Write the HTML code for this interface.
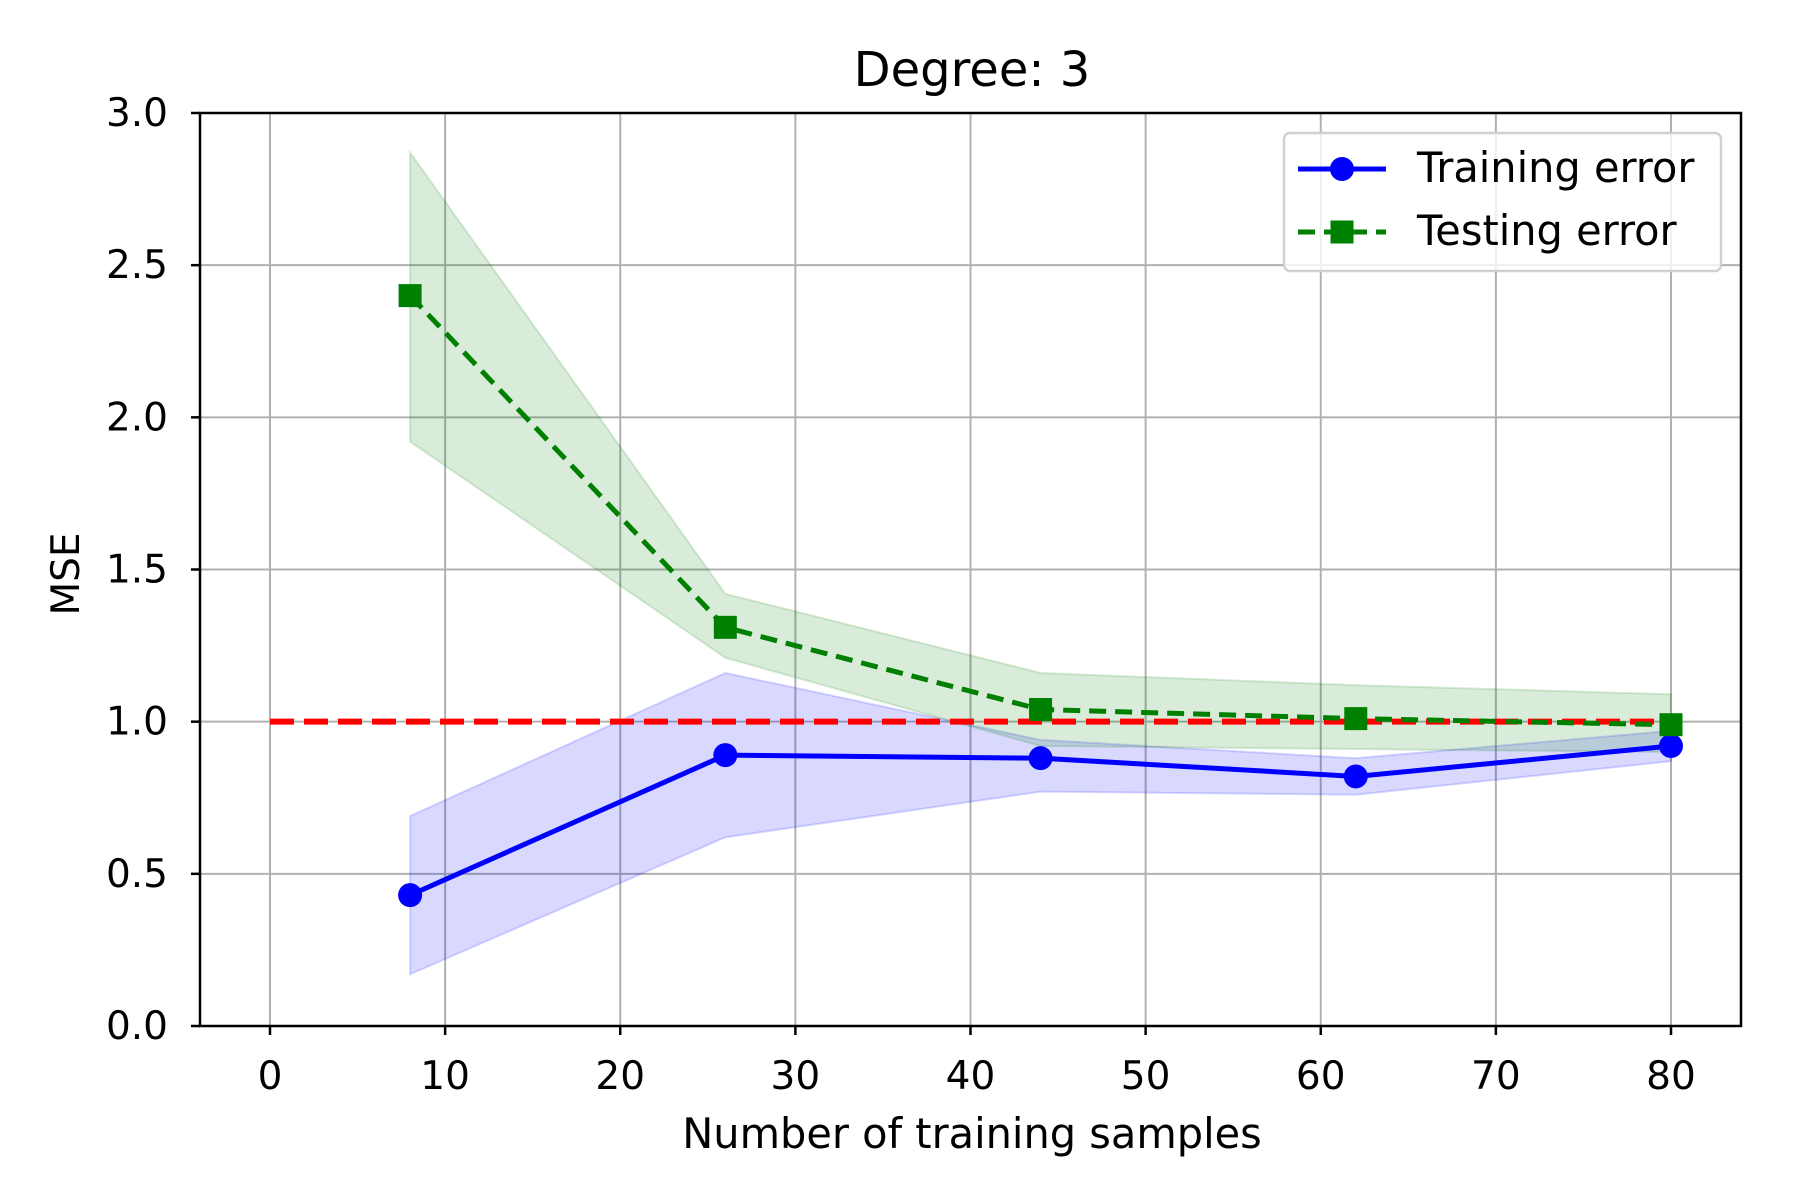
<!DOCTYPE html>
<html><head><meta charset="utf-8"><style>body{margin:0;background:#fff}svg text{font-family:"DejaVu Sans","Liberation Sans",sans-serif;fill:#000}</style></head>
<body>
<svg id="chart" width="1800" height="1200" viewBox="0 0 1800 1200" xmlns="http://www.w3.org/2000/svg" style="position:absolute;left:0;top:0"></svg>
<script>
const xs = [8, 26, 44, 62, 80];
const trainMean = [0.43, 0.89, 0.88, 0.82, 0.92];
const trainUpper = [0.69, 1.16, 0.94, 0.88, 0.97];
const trainLower = [0.17, 0.62, 0.77, 0.76, 0.87];
const testMean = [2.40, 1.31, 1.04, 1.01, 0.99];
const testUpper = [2.87, 1.42, 1.16, 1.12, 1.09];
const testLower = [1.92, 1.21, 0.92, 0.91, 0.90];
const baseline = 1.0;
const xTicks = [0,10,20,30,40,50,60,70,80];
const yTicks = [0.0,0.5,1.0,1.5,2.0,2.5,3.0];

const L=200,R=1741,T=113,B=1026;
const X=v=>270+(v-0)*(1671-270)/80;
const Y=v=>B-(v/3)*(B-T);
const svg=document.getElementById('chart');
const NS='http://www.w3.org/2000/svg';
function mk(tag,attrs,parent){const e=document.createElementNS(NS,tag);for(const k in attrs)e.setAttribute(k,attrs[k]);(parent||svg).appendChild(e);return e;}

xTicks.forEach(t=>{const g=mk('line',{x1:X(t),x2:X(t),y1:T,y2:B,stroke:'#b0b0b0','stroke-width':2});

});
yTicks.forEach(t=>{const g=mk('line',{x1:L,x2:R,y1:Y(t),y2:Y(t),stroke:'#b0b0b0','stroke-width':2});

});

function band(up,lo,fill,name){
  let pts=xs.map((x,i)=>X(x)+','+Y(up[i]));
  pts=pts.concat(xs.map((x,i)=>X(x)+','+Y(lo[i])).reverse());
  const p=mk('polygon',{points:pts.join(' '),fill:fill,'fill-opacity':0.15,stroke:fill,'stroke-opacity':0.15,'stroke-width':2});
  
  
}
band(trainUpper,trainLower,'#0000ff','training-error-band');
band(testUpper,testLower,'#008000','testing-error-band');

const rl=mk('line',{x1:X(0),x2:X(80),y1:Y(baseline),y2:Y(baseline),stroke:'#ff0000','stroke-width':6,'stroke-dasharray':'24,10'});



const tl=mk('polyline',{points:xs.map((x,i)=>X(x)+','+Y(trainMean[i])).join(' '),fill:'none',stroke:'#0000ff','stroke-width':5});


xs.forEach((x,i)=>{const c=mk('circle',{cx:X(x),cy:Y(trainMean[i]),r:12,fill:'#0000ff'});

});

const sl=mk('polyline',{points:xs.map((x,i)=>X(x)+','+Y(testMean[i])).join(' '),fill:'none',stroke:'#008000','stroke-width':5,'stroke-dasharray':'17,9'});


xs.forEach((x,i)=>{const s=mk('rect',{x:X(x)-11.5,y:Y(testMean[i])-11.5,width:23,height:23,fill:'#008000'});

});

const fr=mk('rect',{x:L,y:T,width:R-L,height:B-T,fill:'none',stroke:'#000','stroke-width':2.5});



xTicks.forEach(t=>{const k=mk('line',{x1:X(t),x2:X(t),y1:B,y2:B+9,stroke:'#000','stroke-width':2.5});


const tx=mk('text',{x:X(t),y:1089,'font-size':39,'text-anchor':'middle'});tx.textContent=t;

});
yTicks.forEach(t=>{const k=mk('line',{x1:L-9,x2:L,y1:Y(t),y2:Y(t),stroke:'#000','stroke-width':2.5});


const tx=mk('text',{x:L-32,y:Y(t)+13,'font-size':39,'text-anchor':'end'});tx.textContent=t.toFixed(1);

});
</script>
<svg style="position:absolute;left:0;top:0" width="1800" height="1200">
<text x="972" y="86" font-size="48" text-anchor="middle">Degree: 3</text>
<text x="972" y="1148" font-size="41.5" text-anchor="middle">Number of training samples</text>
<text transform="translate(79,574) rotate(-90)" font-size="39" text-anchor="middle">MSE</text>
<g>
<rect x="1284" y="133" width="437" height="138" rx="6" fill="#fff" fill-opacity="0.8" stroke="#d0d0d0" stroke-width="2.5"/>
<line x1="1298" x2="1386" y1="169" y2="169" stroke="#0000ff" stroke-width="5"/>
<circle cx="1342" cy="169" r="12" fill="#0000ff"/>
<text x="1417" y="182" font-size="41.5">Training error</text>
<line x1="1298" x2="1386" y1="232" y2="232" stroke="#008000" stroke-width="5" stroke-dasharray="17,9"/>
<rect x="1330.5" y="220.5" width="23" height="23" fill="#008000"/>
<text x="1417" y="245" font-size="41.5">Testing error</text>
</g>
</svg>
</body></html>
